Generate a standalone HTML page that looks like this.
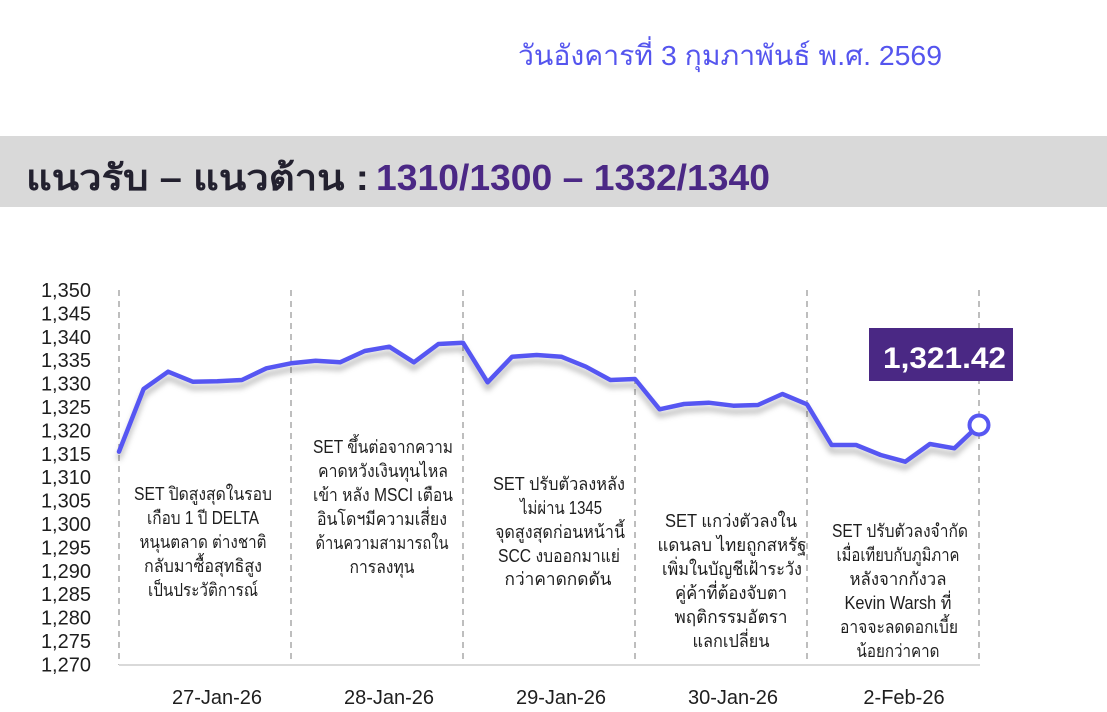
<!DOCTYPE html>
<html>
<head>
<meta charset="utf-8">
<style>
  html,body{margin:0;padding:0;background:#fff;}
  body{width:1107px;height:712px;overflow:hidden;}
  svg{display:block;}
  text{font-family:"Liberation Sans","DejaVu Sans",sans-serif;}
</style>
</head>
<body>
<svg width="1107" height="712" viewBox="0 0 1107 712" xmlns="http://www.w3.org/2000/svg">
  <defs>
    <filter id="sh" x="-5%" y="-20%" width="110%" height="160%">
      <feDropShadow dx="0" dy="6" stdDeviation="3" flood-color="#000" flood-opacity="0.28"/>
    </filter>
  </defs>
  <rect width="1107" height="712" fill="#fff"/>

  <!-- Date -->
  <text x="518" y="65" font-size="28" fill="#5555ee" textLength="424" lengthAdjust="spacingAndGlyphs">วันอังคารที่ 3 กุมภาพันธ์ พ.ศ. 2569</text>

  <!-- Header band -->
  <rect x="0" y="136" width="1107" height="71" fill="#d9d9d9"/>
  <text x="26" y="190" font-size="36" font-weight="bold" fill="#23212f" textLength="343" lengthAdjust="spacingAndGlyphs">แนวรับ – แนวต้าน :</text>
  <text x="376" y="190" font-size="36" font-weight="bold" fill="#4b2885" textLength="394" lengthAdjust="spacingAndGlyphs">1310/1300 – 1332/1340</text>

  <!-- Y axis labels -->
  <g font-size="20" fill="#1e1e1e" text-anchor="end">
    <text x="91" y="297">1,350</text>
    <text x="91" y="320.4">1,345</text>
    <text x="91" y="343.8">1,340</text>
    <text x="91" y="367.2">1,335</text>
    <text x="91" y="390.6">1,330</text>
    <text x="91" y="414">1,325</text>
    <text x="91" y="437.4">1,320</text>
    <text x="91" y="460.8">1,315</text>
    <text x="91" y="484.2">1,310</text>
    <text x="91" y="507.6">1,305</text>
    <text x="91" y="531">1,300</text>
    <text x="91" y="554.4">1,295</text>
    <text x="91" y="577.8">1,290</text>
    <text x="91" y="601.2">1,285</text>
    <text x="91" y="624.6">1,280</text>
    <text x="91" y="648">1,275</text>
    <text x="91" y="671.4">1,270</text>
  </g>

  <!-- Dashed day separators -->
  <g stroke="#a8a8a8" stroke-width="1.5" stroke-dasharray="6,5">
    <line x1="119" y1="290" x2="119" y2="665"/>
    <line x1="291" y1="290" x2="291" y2="665"/>
    <line x1="463" y1="290" x2="463" y2="665"/>
    <line x1="635" y1="290" x2="635" y2="665"/>
    <line x1="807" y1="290" x2="807" y2="665"/>
    <line x1="979" y1="290" x2="979" y2="665"/>
  </g>
  <!-- Baseline -->
  <line x1="119" y1="665" x2="980" y2="665" stroke="#d9d9d9" stroke-width="2"/>

  <!-- Annotations -->
  <g font-size="18" fill="#1e1e1e" text-anchor="middle" lengthAdjust="spacingAndGlyphs">
    <text x="203" y="500" textLength="138" lengthAdjust="spacingAndGlyphs">SET ปิดสูงสุดในรอบ</text>
    <text x="203" y="524" textLength="112" lengthAdjust="spacingAndGlyphs">เกือบ 1 ปี DELTA</text>
    <text x="203" y="548" textLength="127" lengthAdjust="spacingAndGlyphs">หนุนตลาด ต่างชาติ</text>
    <text x="203" y="572" textLength="118" lengthAdjust="spacingAndGlyphs">กลับมาซื้อสุทธิสูง</text>
    <text x="203" y="596" textLength="110" lengthAdjust="spacingAndGlyphs">เป็นประวัติการณ์</text>

    <text x="383" y="453" textLength="140" lengthAdjust="spacingAndGlyphs">SET ขึ้นต่อจากความ</text>
    <text x="383" y="477" textLength="130" lengthAdjust="spacingAndGlyphs">คาดหวังเงินทุนไหล</text>
    <text x="383" y="501" textLength="140" lengthAdjust="spacingAndGlyphs">เข้า หลัง MSCI เตือน</text>
    <text x="382" y="525" textLength="130" lengthAdjust="spacingAndGlyphs">อินโดฯมีความเสี่ยง</text>
    <text x="382" y="549" textLength="133" lengthAdjust="spacingAndGlyphs">ด้านความสามารถใน</text>
    <text x="382" y="573" textLength="65" lengthAdjust="spacingAndGlyphs">การลงทุน</text>

    <text x="559" y="490" textLength="132" lengthAdjust="spacingAndGlyphs">SET ปรับตัวลงหลัง</text>
    <text x="561" y="514" textLength="82" lengthAdjust="spacingAndGlyphs">ไม่ผ่าน 1345</text>
    <text x="560" y="538" textLength="130" lengthAdjust="spacingAndGlyphs">จุดสูงสุดก่อนหน้านี้</text>
    <text x="559" y="562" textLength="122" lengthAdjust="spacingAndGlyphs">SCC งบออกมาแย่</text>
    <text x="558" y="585" textLength="107" lengthAdjust="spacingAndGlyphs">กว่าคาดกดดัน</text>

    <text x="731" y="527" textLength="132" lengthAdjust="spacingAndGlyphs">SET แกว่งตัวลงใน</text>
    <text x="732" y="551" textLength="149" lengthAdjust="spacingAndGlyphs">แดนลบ ไทยถูกสหรัฐ</text>
    <text x="732" y="575" textLength="140" lengthAdjust="spacingAndGlyphs">เพิ่มในบัญชีเฝ้าระวัง</text>
    <text x="731" y="599" textLength="112" lengthAdjust="spacingAndGlyphs">คู่ค้าที่ต้องจับตา</text>
    <text x="731" y="623" textLength="113" lengthAdjust="spacingAndGlyphs">พฤติกรรมอัตรา</text>
    <text x="731" y="647" textLength="77" lengthAdjust="spacingAndGlyphs">แลกเปลี่ยน</text>

    <text x="900" y="537" textLength="136" lengthAdjust="spacingAndGlyphs">SET ปรับตัวลงจำกัด</text>
    <text x="898" y="561" textLength="123" lengthAdjust="spacingAndGlyphs">เมื่อเทียบกับภูมิภาค</text>
    <text x="898" y="585" textLength="97" lengthAdjust="spacingAndGlyphs">หลังจากกังวล</text>
    <text x="898" y="609" textLength="107" lengthAdjust="spacingAndGlyphs">Kevin Warsh ที่</text>
    <text x="899" y="633" textLength="118" lengthAdjust="spacingAndGlyphs">อาจจะลดดอกเบี้ย</text>
    <text x="898" y="657" textLength="83" lengthAdjust="spacingAndGlyphs">น้อยกว่าคาด</text>
  </g>

  <!-- X axis date labels -->
  <g font-size="20" fill="#1e1e1e" text-anchor="middle">
    <text x="217" y="704">27-Jan-26</text>
    <text x="389" y="704">28-Jan-26</text>
    <text x="561" y="704">29-Jan-26</text>
    <text x="733" y="704">30-Jan-26</text>
    <text x="904" y="704">2-Feb-26</text>
  </g>

  <!-- Series line -->
  <polyline filter="url(#sh)" fill="none" stroke="#5757f2" stroke-width="4.5" stroke-linejoin="round" stroke-linecap="round"
    points="119,451.7 143.6,389 168.1,371.7 192.7,381.7 217.3,381.3 241.9,380 266.4,368.3 291,363.3 315.6,360.7 340.1,362.3 364.7,351 389.3,346.7 413.9,362.3 438.4,344 463,342.7 487.6,382.3 512.1,356.7 536.7,355 561.3,356.7 585.9,366.7 610.4,380 635,379 659.6,409.3 684.1,404 708.7,402.7 733.3,405.7 757.9,405 782.4,394 807,404.3 831.6,445 856.1,445 880.7,455 905.3,461.7 929.9,444 954.4,448.3 979,425"/>

  <!-- End marker -->
  <circle cx="979" cy="425" r="9.5" fill="#fff" stroke="#5757f2" stroke-width="4"/>

  <!-- Value label -->
  <rect x="869" y="328" width="144" height="53" fill="#4a2884"/>
  <text x="883" y="368" font-size="30" font-weight="bold" fill="#fff" textLength="123" lengthAdjust="spacingAndGlyphs">1,321.42</text>
</svg>
</body>
</html>
